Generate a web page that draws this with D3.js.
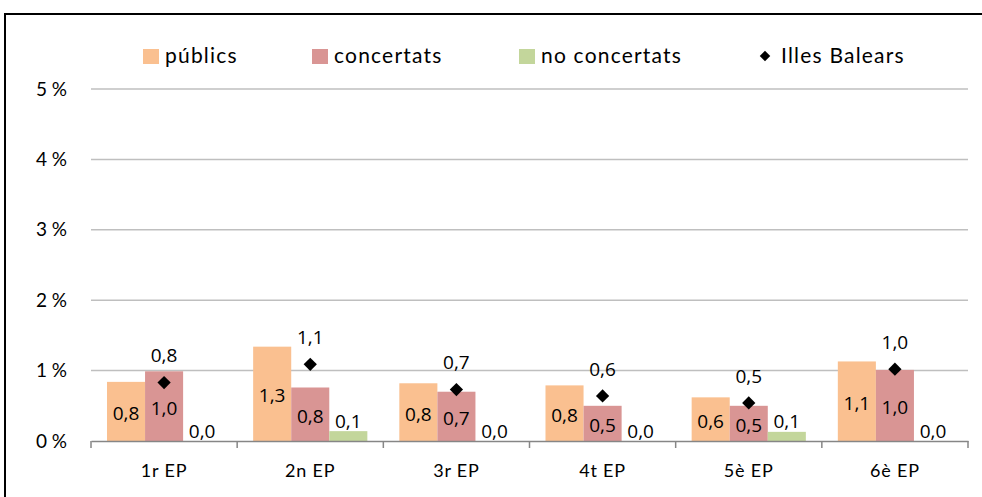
<!DOCTYPE html>
<html>
<head>
<meta charset="utf-8">
<script src="https://cdn.jsdelivr.net/npm/d3@7"></script>
<style>
  body { margin: 0; background: #fff; }
  .val { font-family: "Open Sans", sans-serif; font-size: 19px; fill: #000; }
  .lab { font-family: Lato, sans-serif; fill: #000; }
</style>
</head>
<body>
<script>
// Data (% of pupils)
var cursos = ["1r EP", "2n EP", "3r EP", "4t EP", "5è EP", "6è EP"];
var publics = [0.84, 1.34, 0.82, 0.79, 0.62, 1.13];
var concertats = [0.99, 0.76, 0.70, 0.50, 0.50, 1.01];
var noConcertats = [0.00, 0.14, 0.00, 0.00, 0.13, 0.00];
var illesBalears = [0.83, 1.09, 0.73, 0.64, 0.54, 1.02];
var yTicks = [0, 1, 2, 3, 4, 5];
var seriesNames = ["públics", "concertats", "no concertats"];
var colors = ["#FAC090", "#D99594", "#C3D69B"];

var width = 982, height = 497;
var plotLeft = 91, plotRight = 968, plotTop = 89, plotBottom = 441;

var svg = d3.select("body").append("svg")
    .attr("width", width)
    .attr("height", height);

// chart frame (right and bottom edges run off the picture)
svg.append("rect")
    .attr("x", 5).attr("y", 14)
    .attr("width", 1000).attr("height", 600)
    .attr("fill", "none")
    .attr("stroke", "#000")
    .attr("stroke-width", 2);

var x = d3.scaleBand().domain(cursos).range([plotLeft, plotRight]);
var xs = d3.scaleBand().domain([0, 1, 2]).range([0, x.bandwidth()]).paddingOuter(0.42);
var y = d3.scaleLinear().domain([0, 5]).range([plotBottom, plotTop]);

var fmt = function(v) { return d3.format(".1f")(v).replace(".", ","); };

// gridlines
svg.append("g").selectAll("line")
    .data(yTicks.slice(1))
    .enter().append("line")
    .attr("x1", plotLeft).attr("x2", plotRight)
    .attr("y1", function(d) { return y(d); })
    .attr("y2", function(d) { return y(d); })
    .attr("stroke", "#BFBFBF")
    .attr("stroke-width", 1.5);

// y labels
svg.append("g").selectAll("text")
    .data(yTicks)
    .enter().append("text")
    .attr("class", "lab")
    .attr("x", 67)
    .attr("y", function(d) { return y(d); })
    .attr("dy", "0.35em")
    .attr("text-anchor", "end")
    .style("font-size", "19px")
    .text(function(d) { return d + " %"; });

// bars
var series = [publics, concertats, noConcertats];
series.forEach(function(vals, s) {
    var g = svg.append("g");
    g.selectAll("rect")
        .data(vals)
        .enter().append("rect")
        .attr("x", function(d, i) { return x(cursos[i]) + xs(s); })
        .attr("width", xs.bandwidth())
        .attr("y", function(d) { return y(d); })
        .attr("height", function(d) { return y(0) - y(d); })
        .attr("fill", colors[s]);
    g.selectAll("text")
        .data(vals)
        .enter().append("text")
        .attr("class", "val")
        .attr("x", function(d, i) { return x(cursos[i]) + xs(s) + xs.bandwidth() / 2; })
        .attr("y", function(d) {
            // no concertats: label sits above the bar
            return s == 2 ? y(d) - 10 : (y(d) + y(0)) / 2 + 2;
        })
        .attr("dy", "0.35em")
        .attr("text-anchor", "middle")
        .text(function(d) { return fmt(d); });
});

// x axis
var xAxis = svg.append("g")
    .attr("transform", "translate(0," + plotBottom + ")")
    .call(d3.axisBottom(x).tickSize(0).tickFormat(""));
xAxis.select(".domain").attr("stroke", "#868686").attr("stroke-width", 1.5);
xAxis.selectAll(".tick").remove();
svg.append("g").selectAll("line")
    .data(d3.range(cursos.length + 1))
    .enter().append("line")
    .attr("x1", function(i) { return plotLeft + i * x.step(); })
    .attr("x2", function(i) { return plotLeft + i * x.step(); })
    .attr("y1", plotBottom).attr("y2", plotBottom + 7)
    .attr("stroke", "#868686")
    .attr("stroke-width", 1.5);
svg.append("g").selectAll("text")
    .data(cursos)
    .enter().append("text")
    .attr("class", "lab")
    .attr("x", function(d) { return x(d) + x.bandwidth() / 2; })
    .attr("y", 471)
    .attr("dy", "0.35em")
    .attr("text-anchor", "middle")
    .style("font-size", "18px")
    .style("letter-spacing", "0.8px")
    .text(function(d) { return d; });

// Illes Balears markers
var diamond = d3.symbol().type(d3.symbolSquare).size(88);
var mid = x.bandwidth() / 2;
svg.append("g").selectAll("path")
    .data(illesBalears)
    .enter().append("path")
    .attr("d", diamond)
    .attr("transform", function(d, i) {
        return "translate(" + (x(cursos[i]) + mid) + "," + y(d) + ") rotate(45)";
    })
    .attr("fill", "#000");
svg.append("g").selectAll("text")
    .data(illesBalears)
    .enter().append("text")
    .attr("class", "val")
    .attr("x", function(d, i) { return x(cursos[i]) + mid; })
    .attr("y", function(d) { return y(d) - 27; })
    .attr("dy", "0.35em")
    .attr("text-anchor", "middle")
    .text(function(d) { return fmt(d); });

// legend
var legX = [143, 312, 519];
var legend = svg.append("g")
    .style("font-size", "21px")
    .style("letter-spacing", "1.2px");
seriesNames.forEach(function(n, i) {
    legend.append("rect")
        .attr("x", legX[i]).attr("y", 49)
        .attr("width", 16).attr("height", 15)
        .attr("fill", colors[i]);
    legend.append("text")
        .attr("class", "lab")
        .attr("x", legX[i] + 22).attr("y", 56)
        .attr("dy", "0.35em")
        .text(n);
});
legend.append("path")
    .attr("d", d3.symbol().type(d3.symbolSquare).size(55))
    .attr("transform", "translate(765,56) rotate(45)")
    .attr("fill", "#000");
legend.append("text")
    .attr("class", "lab")
    .attr("x", 781).attr("y", 56)
    .attr("dy", "0.35em")
    .text("Illes Balears");
</script>
</body>
</html>
